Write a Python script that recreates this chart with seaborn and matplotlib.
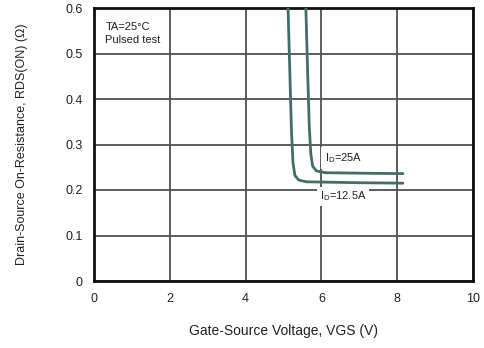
import matplotlib
matplotlib.use("Agg")
import matplotlib.pyplot as plt
import seaborn as sns
import pandas as pd

# data
vgs_12a5 = [5.12, 5.17, 5.21, 5.25, 5.3, 5.4, 5.6, 7.0, 8.15]
rds_12a5 = [0.60, 0.45, 0.33, 0.26, 0.232, 0.222, 0.218, 0.216, 0.215]
vgs_25a = [5.59, 5.64, 5.68, 5.72, 5.77, 5.87, 6.1, 7.0, 8.15]
rds_25a = [0.60, 0.45, 0.34, 0.28, 0.252, 0.242, 0.238, 0.237, 0.236]

x_ticks = [0, 2, 4, 6, 8, 10]
y_ticks = [0, 0.1, 0.2, 0.3, 0.4, 0.5, 0.6]
y_tick_labels = ["0", "0.1", "0.2", "0.3", "0.4", "0.5", "0.6"]

df = pd.concat([
    pd.DataFrame({"vgs": vgs_12a5, "rds": rds_12a5, "id": "12.5A"}),
    pd.DataFrame({"vgs": vgs_25a, "rds": rds_25a, "id": "25A"}),
])

sns.set_style("white")
plt.rcParams['font.family'] = ['Liberation Sans', 'DejaVu Sans']

fig = plt.figure(figsize=(4.85, 3.48), dpi=100)
ax = fig.add_axes([94 / 485, 1 - 281 / 348, (473 - 94) / 485, (281 - 8) / 348])

sns.lineplot(data=df, x="vgs", y="rds", units="id", estimator=None, sort=False,
             color="#3f6e6b", linewidth=2, ax=ax, zorder=3)

ax.set_xlim(0, 10)
ax.set_ylim(0, 0.6)
ax.set_xticks(x_ticks)
ax.set_yticks(y_ticks)
ax.set_yticklabels(y_tick_labels)
ax.grid(True, color="#505050", linewidth=1.3)
ax.set_axisbelow(True)
for s in ax.spines.values():
    s.set_color("#111111")
    s.set_linewidth(2)
ax.tick_params(axis="both", length=0, labelsize=9, colors="#222222")
ax.tick_params(axis="x", pad=9)
ax.tick_params(axis="y", pad=8)

ax.set_xlabel("Gate-Source Voltage, VGS (V)", fontsize=10, labelpad=13, color="#222222")
ax.set_ylabel("Drain-Source On-Resistance, RDS(ON) (\u03a9)", fontsize=9, labelpad=27, color="#222222")

ax.text(0.3, 0.57, "TA=25\u00b0C\nPulsed test", fontsize=8, va="top", ha="left",
        linespacing=1.45, color="#222222", bbox=dict(facecolor="white", edgecolor="none", pad=1))
ax.text(6.1, 0.27, "I$_{\\mathregular{D}}$=25A", fontsize=8, va="center", ha="left",
        color="#222222", zorder=2, bbox=dict(facecolor="white", edgecolor="none", pad=3))
ax.text(5.95, 0.186, "I$_{\\mathregular{D}}$=12.5A", fontsize=8, va="center", ha="left",
        color="#222222", zorder=2, bbox=dict(facecolor="white", edgecolor="none", pad=2))

fig.savefig("out.png", dpi=100)
